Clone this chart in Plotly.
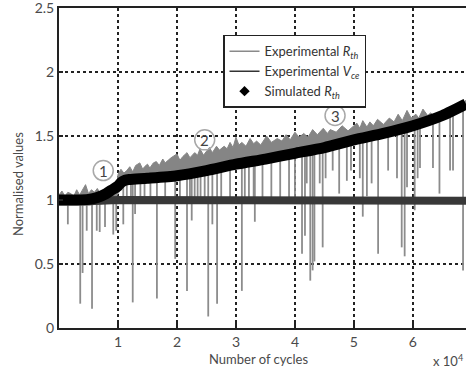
import plotly.graph_objects as go

# ---------------- data ----------------
# Simulated Rth (thick black curve)
sim_x = [0.0, 0.3, 0.5, 0.65, 0.8, 0.9, 1.0, 1.06, 1.12, 1.2, 1.5, 2.0, 2.5, 3.0, 3.5, 4.0, 4.5, 5.0, 5.5, 6.0, 6.5, 6.9]
sim_y = [1.0, 1.0, 1.005, 1.02, 1.05, 1.08, 1.11, 1.14, 1.155, 1.16, 1.17, 1.19, 1.23, 1.28, 1.32, 1.365, 1.41, 1.47, 1.52, 1.58, 1.66, 1.75]

# Experimental Rth: upper envelope of the grey noisy band (jagged)
rth_up_x = [0.0, 0.05, 0.1, 0.15, 0.2, 0.25, 0.3, 0.35, 0.45, 0.5, 0.55, 0.6, 0.65, 0.7, 0.75, 0.8, 0.85, 0.9, 0.98,
            1.0, 1.05, 1.1, 1.15, 1.2, 1.25, 1.3, 1.37, 1.42, 1.45, 1.5, 1.54, 1.6, 1.65, 1.7, 1.76, 1.8, 1.85,
            1.9, 2.0, 2.05, 2.1, 2.17, 2.22, 2.3, 2.35, 2.39, 2.45, 2.5, 2.55, 2.6, 2.67, 2.72, 2.8, 2.85, 2.9,
            2.95, 3.0, 3.05, 3.1, 3.17, 3.24, 3.3, 3.35, 3.42, 3.52, 3.6, 3.7, 3.78, 3.85, 3.92, 4.0, 4.07,
            4.15, 4.22, 4.3, 4.38, 4.48, 4.55, 4.6, 4.7, 4.8, 4.9, 5.05, 5.1, 5.15, 5.22, 5.27, 5.33, 5.4,
            5.5, 5.6, 5.68, 5.75, 5.82, 5.9, 5.97, 6.05, 6.1, 6.17, 6.25, 6.3, 6.38, 6.46, 6.55, 6.6, 6.68,
            6.75, 6.82, 6.9]
rth_up_y = [1.04, 1.07, 1.03, 1.06, 1.05, 1.03, 1.08, 1.04, 1.12, 1.05, 1.08, 1.06, 1.09, 1.05, 1.07, 1.07, 1.04, 1.10, 1.12,
            1.20, 1.24, 1.21, 1.23, 1.26, 1.22, 1.27, 1.29, 1.24, 1.26, 1.28, 1.25, 1.29, 1.30, 1.27, 1.32, 1.29, 1.31,
            1.33, 1.36, 1.31, 1.34, 1.37, 1.33, 1.37, 1.35, 1.40, 1.35, 1.38, 1.41, 1.37, 1.42, 1.39, 1.42, 1.40, 1.45,
            1.41, 1.49, 1.43, 1.45, 1.42, 1.48, 1.44, 1.46, 1.43, 1.50, 1.45, 1.48, 1.46, 1.51, 1.47, 1.53, 1.49,
            1.52, 1.49, 1.55, 1.51, 1.56, 1.52, 1.55, 1.53, 1.58, 1.54, 1.60, 1.56, 1.62, 1.57, 1.61, 1.58, 1.63,
            1.59, 1.64, 1.61, 1.67, 1.62, 1.70, 1.64, 1.67, 1.64, 1.71, 1.66, 1.68, 1.65, 1.69, 1.67, 1.70, 1.69,
            1.74, 1.73, 1.78]
# lower envelope of the grey band
rth_lo_x = [0.0, 0.5, 0.9, 1.0, 1.1, 1.5, 2.0, 3.0, 4.0, 5.0, 6.0, 6.9]
rth_lo_y = [0.96, 0.96, 0.98, 1.05, 1.12, 1.15, 1.17, 1.26, 1.34, 1.45, 1.56, 1.72]

# Experimental Rth: downward spikes (x, top, bottom)
spike_x = [0.15, 0.36, 0.40, 0.47, 0.56, 0.64, 0.69, 0.78, 0.92, 0.97, 1.09, 1.15, 1.22, 1.25, 1.29, 1.38, 1.45,
           1.55, 1.66, 1.80, 1.97, 2.05, 2.17, 2.22, 2.25, 2.30, 2.35, 2.40, 2.47, 2.53, 2.60, 2.68, 2.75, 2.9,
           3.10, 3.15, 3.22, 3.30, 3.32, 3.45, 3.60, 3.75, 3.9, 4.00, 4.12, 4.17, 4.20, 4.26, 4.30, 4.33, 4.42,
           4.47, 4.52, 4.64, 4.75, 4.88, 4.95, 5.10, 5.15, 5.22, 5.30, 5.41, 5.58, 5.73, 5.81, 5.86, 5.90, 6.03,
           6.08, 6.12, 6.34, 6.45, 6.63, 6.68, 6.85]
spike_top = [1.0, 1.0, 1.0, 1.0, 1.0, 1.0, 1.0, 1.0, 1.05, 1.08, 1.15, 1.16, 1.16, 1.16, 1.16, 1.17, 1.17,
             1.17, 1.18, 1.18, 1.19, 1.19, 1.20, 1.21, 1.21, 1.21, 1.22, 1.22, 1.22, 1.23, 1.24, 1.25, 1.25, 1.27,
             1.29, 1.29, 1.30, 1.30, 1.30, 1.31, 1.33, 1.34, 1.35, 1.36, 1.37, 1.38, 1.38, 1.39, 1.39, 1.39, 1.40,
             1.40, 1.41, 1.42, 1.44, 1.45, 1.46, 1.48, 1.48, 1.49, 1.50, 1.51, 1.53, 1.55, 1.56, 1.56, 1.57, 1.58,
             1.59, 1.60, 1.63, 1.64, 1.67, 1.68, 1.73]
spike_bot = [0.81, 0.19, 0.43, 0.76, 0.15, 0.76, 0.75, 0.79, 0.73, 0.76, 0.81, 1.0, 0.98, 0.20, 0.89, 1.0, 1.0,
             0.98, 0.23, 1.0, 0.54, 1.0, 0.29, 1.0, 0.84, 1.0, 1.0, 1.0, 1.0, 0.09, 0.81, 0.19, 1.0, 1.0,
             0.29, 1.0, 1.0, 1.0, 0.83, 1.0, 1.0, 1.02, 1.02, 1.0, 0.58, 0.72, 1.13, 0.37, 0.45, 0.52, 1.13,
             0.63, 1.17, 1.23, 1.05, 1.15, 1.23, 1.17, 0.87, 1.03, 1.13, 0.58, 1.23, 1.17, 0.63, 0.56, 1.10, 0.92,
             1.17, 1.25, 1.25, 1.05, 1.23, 1.23, 0.45]

# Experimental Vce (flat dark band)
vce_x = [0.0, 0.5, 1.0, 1.5, 2.0, 3.0, 4.0, 5.0, 6.0, 6.9]
vce_y = [1.0, 0.99, 1.0, 1.0, 1.0, 0.995, 1.0, 0.995, 0.995, 0.995]

# circled region labels
region_labels = ["1", "2", "3"]
region_x = [0.75, 2.47, 4.68]
region_y = [1.23, 1.47, 1.66]

x_ticks = [1, 2, 3, 4, 5, 6]
y_ticks = [0, 0.5, 1, 1.5, 2, 2.5]
y_tick_text = ["0", "0.5", "1", "1.5", "2", "2.5"]

FONT = "Lato"
TXT = "#4a4a4a"
GREY = "#858585"
DARK = "#383838"

fig = go.Figure()

# grey band (Experimental Rth)
fig.add_trace(go.Scatter(
    x=rth_up_x + rth_lo_x[::-1], y=rth_up_y + rth_lo_y[::-1],
    fill="toself", fillcolor=GREY, mode="lines", line=dict(color=GREY, width=1),
    showlegend=False, hoverinfo="skip"))

# spikes
sx, sy = [], []
for x, t, b in zip(spike_x, spike_top, spike_bot):
    sx += [x, x, None]
    sy += [t, b, None]
fig.add_trace(go.Scatter(x=sx, y=sy, mode="lines", line=dict(color="#8c8c8c", width=1.8),
                         showlegend=False, hoverinfo="skip"))

# Vce
fig.add_trace(go.Scatter(x=vce_x, y=vce_y, mode="lines", line=dict(color=DARK, width=8),
                         showlegend=False, hoverinfo="skip"))

# Simulated Rth
fig.add_trace(go.Scatter(x=sim_x, y=sim_y, mode="lines", line=dict(color="black", width=11, shape="spline", smoothing=0.6),
                         showlegend=False, hoverinfo="skip"))

# legend-only entries
fig.add_trace(go.Scatter(x=[None], y=[None], mode="lines", line=dict(color="#8a8a8a", width=1.5),
                         name="Experimental <i>R</i><sub><i>th</i></sub>"))
fig.add_trace(go.Scatter(x=[None], y=[None], mode="lines", line=dict(color="#333", width=1.5),
                         name="Experimental <i>V</i><sub><i>ce</i></sub>"))
fig.add_trace(go.Scatter(x=[None], y=[None], mode="markers",
                         marker=dict(symbol="diamond", color="black", size=8),
                         name="Simulated <i>R</i><sub><i>th</i></sub>"))

shapes = []
annotations = []
for lab, lx, ly in zip(region_labels, region_x, region_y):
    shapes.append(dict(type="circle", xref="x", yref="y", xsizemode="pixel", ysizemode="pixel",
                       xanchor=lx, yanchor=ly, x0=-10, x1=10, y0=-10, y1=10,
                       line=dict(color="#a8a8a8", width=1.5)))
    annotations.append(dict(x=lx, y=ly, xref="x", yref="y", text=lab, showarrow=False,
                            font=dict(family=FONT, size=15, color="#444")))

annotations.append(dict(x=0.5, y=0, xref="paper", yref="paper", yshift=-31, xshift=-4,
                        text="Number of cycles", showarrow=False, xanchor="center", yanchor="middle",
                        font=dict(family=FONT, size=13, color=TXT)))
annotations.append(dict(x=1, y=0, xref="paper", yref="paper", yshift=-32, xshift=0,
                        text="x 10<sup>4</sup>", showarrow=False, xanchor="right", yanchor="middle",
                        font=dict(family=FONT, size=13, color=TXT)))
annotations.append(dict(x=0, y=0.45, xref="paper", yref="paper", xshift=-41,
                        text="Normalised values", showarrow=False, textangle=-90,
                        xanchor="center", yanchor="middle",
                        font=dict(family=FONT, size=13, color=TXT)))

fig.update_layout(
    width=466, height=371,
    margin=dict(l=59, r=0, t=8, b=43),
    paper_bgcolor="white", plot_bgcolor="white",
    font=dict(family=FONT, size=13, color=TXT),
    showlegend=True,
    legend=dict(x=0.403, y=0.916, xanchor="left", yanchor="top",
                bgcolor="white", bordercolor="#222", borderwidth=1.5,
                font=dict(family=FONT, size=13, color="#333"),
                tracegroupgap=0, itemwidth=30),
    shapes=shapes, annotations=annotations,
)
fig.update_xaxes(range=[0, 6.9], tickvals=x_ticks, ticks="inside", ticklen=5, tickwidth=1.5, tickcolor="#222",
                 showline=True, linecolor="#222", linewidth=2, mirror=True,
                 showgrid=True, gridcolor="#222", gridwidth=1.5, griddash="dot", zeroline=False,
                 tickfont=dict(family=FONT, size=14, color=TXT))
fig.update_yaxes(range=[0, 2.5], tickvals=y_ticks, ticktext=y_tick_text, ticks="inside", ticklen=4,
                 tickwidth=1.5, tickcolor="#222", ticklabeloverflow="allow",
                 showline=True, linecolor="#222", linewidth=2, mirror=False,
                 showgrid=True, gridcolor="#222", gridwidth=1.5, griddash="dot", zeroline=False,
                 tickfont=dict(family=FONT, size=14, color=TXT))

fig.write_html("out.html")
